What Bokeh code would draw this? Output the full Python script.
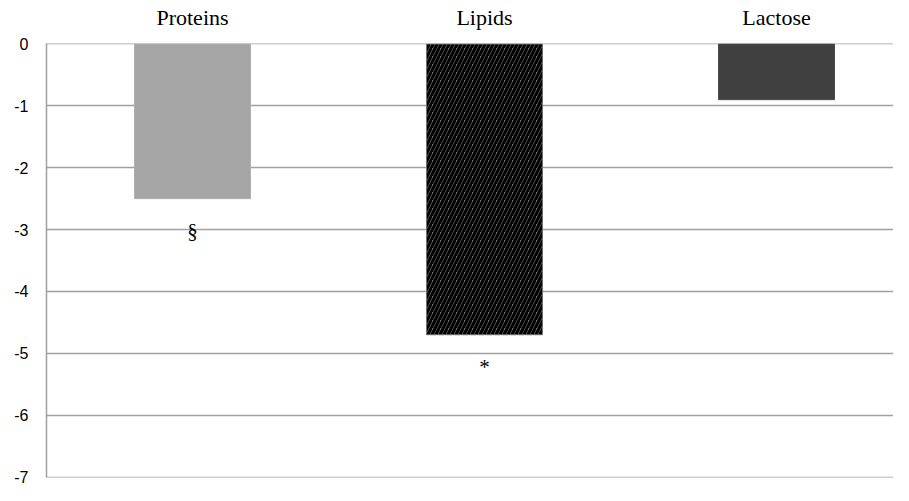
from bokeh.plotting import figure
from bokeh.models import Range1d, FixedTicker, ColumnDataSource
from bokeh.core.properties import value
from bokeh.embed import file_html
from bokeh.resources import INLINE

categories = ["Proteins", "Lipids", "Lactose"]
values = [-2.5, -4.7, -0.9]
marks = ["§", "*", ""]
y_ticks = [0, -1, -2, -3, -4, -5, -6, -7]

fill_colors = ["#a5a5a5", "#707070", "#404040"]
line_colors = ["#b0b0b0", "#707070", "#4a4a4a"]
hatches = [" ", "right_diagonal_line", " "]

xs = [i + 0.5 for i in range(len(categories))]
src = ColumnDataSource(dict(x=xs, top=[0] * len(values), bottom=values,
                            fill=fill_colors, line=line_colors, hatch=hatches,
                            mark=marks, cat=categories))

p = figure(width=893, height=485, output_backend="svg", toolbar_location=None,
           x_range=Range1d(0, 847 / 292), y_range=Range1d(-7.008, 0.008),
           min_border_left=46, min_border_right=0, min_border_top=43, min_border_bottom=8,
           x_axis_location="above")
p.outline_line_color = None
p.background_fill_color = "white"

p.vbar(x="x", top="top", bottom="bottom", width=0.397, source=src,
       fill_color="fill", line_color="line", line_width=1,
       hatch_pattern="hatch", hatch_color="black", hatch_weight=3, hatch_scale=8)

p.text(x="x", y="bottom", text="mark", source=src, text_align="center",
       text_baseline="middle", y_offset=32, text_font=value("Liberation Serif"),
       text_font_size="21px", text_color="black")

# y axis
p.yaxis.ticker = FixedTicker(ticks=y_ticks)
p.yaxis.major_label_overrides = {t: str(t) for t in y_ticks}
p.yaxis.major_tick_line_color = None
p.yaxis.minor_tick_line_color = None
p.yaxis.axis_line_color = "#a0a0a0"
p.yaxis.axis_line_width = 1.5
p.yaxis.major_label_standoff = 12
p.yaxis.major_label_text_font = "Liberation Sans"
p.yaxis.major_label_text_font_size = "16px"
p.yaxis.major_label_text_color = "black"

# category axis on top
p.xaxis.ticker = FixedTicker(ticks=xs)
p.xaxis.major_label_overrides = {x: c for x, c in zip(xs, categories)}
p.xaxis.major_tick_line_color = None
p.xaxis.minor_tick_line_color = None
p.xaxis.axis_line_color = None
p.xaxis.major_label_standoff = 8
p.xaxis.major_label_text_font = "Liberation Serif"
p.xaxis.major_label_text_font_size = "22px"
p.xaxis.major_label_text_color = "black"

p.xgrid.grid_line_color = None
p.ygrid.ticker = FixedTicker(ticks=y_ticks)
p.ygrid.grid_line_color = "#a0a0a0"
p.ygrid.grid_line_width = 1.5

open("out.html", "w").write(file_html(p, INLINE))
